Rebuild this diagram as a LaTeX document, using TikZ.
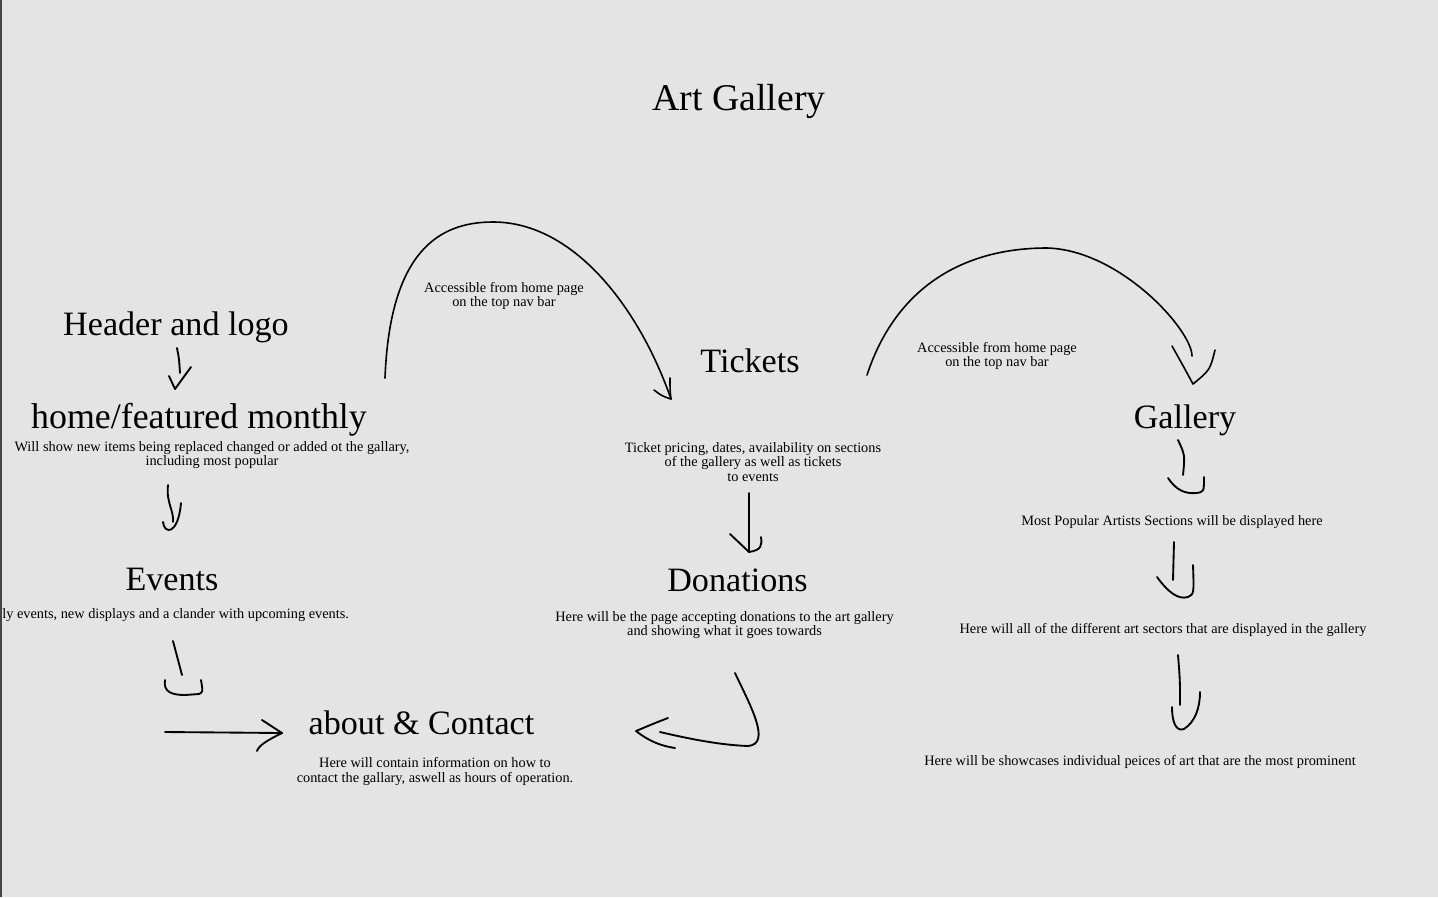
\documentclass[tikz,border=0pt]{standalone}
\usepackage{fontspec}
\setmainfont{Liberation Serif}
\definecolor{bgc}{HTML}{E4E4E4}
\definecolor{edge}{HTML}{454545}
\begin{document}
\begin{tikzpicture}[x=0.75pt,y=-0.75pt,
  titletext/.style={font=\fontsize{28.3}{34}\selectfont, inner sep=0pt, anchor=base},
  headtext/.style={font=\fontsize{25.6}{30}\selectfont, inner sep=0pt, anchor=base},
  notetext/.style={font=\fontsize{10.75}{10.8}\selectfont, inner sep=0pt, align=center},
  pen/.style={line width=1.4pt, line cap=round, line join=round},
  arcpen/.style={line width=1.2pt, line cap=round, line join=round}]
\useasboundingbox (0,0) rectangle (1438,897);
\fill[bgc] (0,0) rectangle (1438,897);
\fill[edge] (0,0) rectangle (1.6,897);

% ---- texts ----
\node[titletext] (title) at (739,110) {Art Gallery};
\node[headtext] (header) at (176,335) {Header and logo};
\node[headtext, font=\fontsize{26.9}{32}\selectfont] (home) at (199,428) {home/featured monthly};
\node[notetext] (homedesc) at (212,455) {Will show new items being replaced changed or added ot the gallary,\\including most popular};
\node[headtext] (events) at (172,590) {Events};
\node[notetext, anchor=base west] (eventsdesc) at (2,618) {ly events, new displays and a clander with upcoming events.};
\node[headtext] (about) at (421.5,734) {about \& Contact};
\node[notetext] (aboutdesc) at (435,771.5) {Here will contain information on how to\\contact the gallary, aswell as hours of operation.};
\node[notetext] (acc1) at (504,296) {Accessible from home page\\on the top nav bar};
\node[headtext] (tickets) at (750,372) {Tickets};
\node[notetext] (ticketsdesc) at (753,462) {Ticket pricing, dates, availability on sections\\of the gallery as well as tickets\\to events};
\node[headtext] (donations) at (737.5,591) {Donations};
\node[notetext] (donationsdesc) at (724.5,625) {Here will be the page accepting donations to the art gallery\\and showing what it goes towards};
\node[notetext] (acc2) at (997,356) {Accessible from home page\\on the top nav bar};
\node[headtext] (gallery) at (1185,428) {Gallery};
\node[notetext, anchor=base] (popular) at (1172,525) {Most Popular Artists Sections will be displayed here};
\node[notetext, anchor=base] (sectors) at (1163,633) {Here will all of the different art sectors that are displayed in the gallery};
\node[notetext, anchor=base] (showcase) at (1140,765) {Here will be showcases individual peices of art that are the most prominent};

% ---- connector end points ----
\coordinate (a1s) at (177,348);   \coordinate (a1e) at (180,373);  \coordinate (a1t) at (175,389);
\coordinate (a2s) at (168,485);   \coordinate (a2e) at (173,522);
\coordinate (a3s) at (173,641);   \coordinate (a3e) at (182,675);
\coordinate (a4s) at (165,732);   \coordinate (a4e) at (282,733);
\coordinate (b1s) at (385,378);   \coordinate (b1m) at (493,222);  \coordinate (b1e) at (671,399);
\coordinate (b2s) at (867,375);   \coordinate (b2m) at (1047,248); \coordinate (b2e) at (1192,356); \coordinate (b2t) at (1193,384);
\coordinate (c1s) at (749,493);   \coordinate (c1e) at (749,552);
\coordinate (c2s) at (735,673);   \coordinate (c2b) at (748,746);  \coordinate (c2e) at (660,732); \coordinate (c2t) at (636,731);
\coordinate (d1s) at (1178,440);  \coordinate (d1e) at (1183,475);
\coordinate (d2s) at (1174,542);  \coordinate (d2e) at (1173,580);
\coordinate (d3s) at (1178,655);  \coordinate (d3e) at (1180,705);

% header -> home
\draw[pen] (a1s) .. controls (179,358) .. (a1e);
\draw[pen] (169,376) -- (a1t) -- (191,367);
% home -> events
\draw[pen] (a2s) .. controls (166,503) and (174,510) .. (a2e);
\draw[pen] (163,522) .. controls (164,534) and (178,536) .. (181,503);
% events -> about
\draw[pen] (a3s) -- (a3e);
\draw[pen] (165,680) .. controls (163,692) and (172,695) .. (185,695) -- (199,694) .. controls (203,692) .. (201,680);
\draw[pen] (a4s) -- (a4e);
\draw[pen] (262,720) -- (a4e) .. controls (268,740) and (259,745) .. (257,751);
% home -> tickets (arc)
\draw[arcpen] (b1s) .. controls (390,250) and (440,222) .. (b1m) .. controls (575,222) and (640,310) .. (b1e);
\draw[arcpen] (654,390) .. controls (662,396) .. (b1e) .. controls (670,390) .. (670,378);
% tickets -> gallery (arc)
\draw[arcpen] (b2s) .. controls (895,290) and (960,248) .. (b2m) .. controls (1120,250) and (1192,330) .. (b2e);
\draw[arcpen] (1172,346) .. controls (1181,362) .. (b2t) .. controls (1210,370) .. (1215,350);
% tickets -> donations
\draw[pen] (c1s) -- (c1e);
\draw[pen] (730,534) -- (c1e) .. controls (762,550) and (762,545) .. (761,537);
% donations -> about
\draw[pen] (c2s) .. controls (750,705) and (772,744) .. (c2b) .. controls (720,745) and (690,739) .. (c2e);
\draw[pen] (668,718) .. controls (655,723) .. (c2t) .. controls (650,742) and (662,746) .. (675,748);
% gallery column
\draw[pen] (d1s) .. controls (1185,455) .. (d1e);
\draw[pen] (1168,478) .. controls (1176,490) and (1185,494) .. (1196,493) .. controls (1204,492) .. (1204,477);
\draw[pen] (d2s) -- (d2e);
\draw[pen] (1157,577) .. controls (1168,592) and (1178,600) .. (1188,597) .. controls (1194,594) .. (1193,565);
\draw[pen] (d3s) .. controls (1180,680) .. (d3e);
\draw[pen] (1172,707) .. controls (1172,722) and (1176,732) .. (1184,729) .. controls (1195,722) and (1200,708) .. (1200,692);
\end{tikzpicture}
\end{document}
